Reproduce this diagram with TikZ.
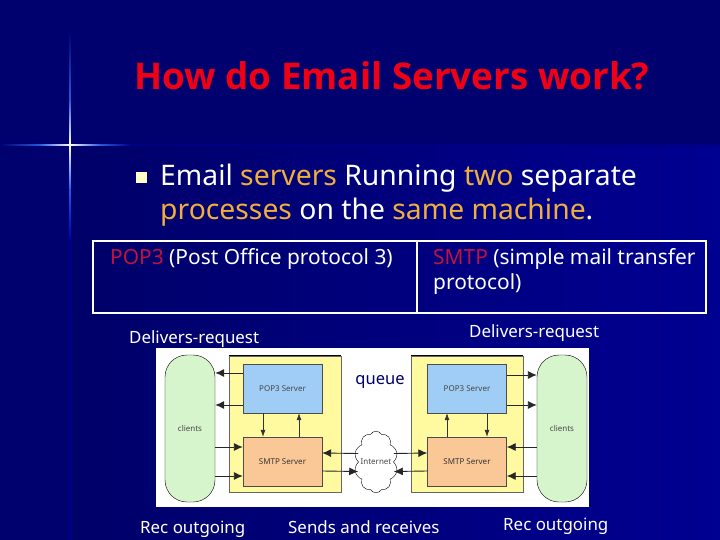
\documentclass[tikz,border=0pt]{standalone}
\usepackage{fontspec}
\usepackage{xcolor}
\setmainfont{Noto Sans}
\newfontfamily\titlefont{Open Sans}
\usetikzlibrary{shapes.symbols, arrows.meta}
\definecolor{slideNavy}{RGB}{0, 0, 110}
\definecolor{slideBlue}{RGB}{0, 0, 145}
\definecolor{slideDeep}{RGB}{0, 0, 105}
\definecolor{starBlue}{RGB}{40, 90, 220}
\definecolor{titleRed}{RGB}{240, 0, 20}
\definecolor{accentGold}{RGB}{240, 175, 60}
\definecolor{protoRed}{RGB}{190, 20, 60}
\definecolor{bulletPale}{RGB}{255, 255, 200}
\definecolor{clientGreen}{RGB}{215, 245, 205}
\definecolor{hostYellow}{RGB}{255, 250, 160}
\definecolor{popBlue}{RGB}{160, 205, 245}
\definecolor{smtpOrange}{RGB}{250, 200, 150}
\definecolor{inkGray}{RGB}{70, 70, 70}

\begin{document}
\begin{tikzpicture}[x=1pt, y=-1pt]
            % Styles
            \tikzstyle{client} = [rectangle, draw=black, fill=clientGreen, text=inkGray, minimum width=50pt, minimum height=147pt, rounded corners=22pt, font=\fontsize{8}{10}\selectfont]
            \tikzstyle{host} = [rectangle, fill=hostYellow, draw=black!60, minimum width=112pt, minimum height=136pt]
            \tikzstyle{popserver} = [rectangle, draw=black!70, fill=popBlue, text=inkGray, minimum width=79pt, minimum height=49pt, font=\fontsize{8}{10}\selectfont]
            \tikzstyle{smtpserver} = [rectangle, draw=black!70, fill=smtpOrange, text=black!80, minimum width=79pt, minimum height=49pt, font=\fontsize{8}{10}\selectfont]
            \tikzstyle{protocell} = [rectangle, draw=white, line width=1.6pt, minimum height=72pt]
            \tikzstyle{label} = [text=white, font=\fontsize{16.9}{20}\selectfont]
            \tikzstyle{arrow} = [-{Latex[length=9pt,width=8pt]}, line width=0.9pt, black!85]
            \tikzstyle{thinarrow} = [-{Latex[length=7pt,width=5pt]}, line width=0.6pt, black!80]

            % Background
            \fill[slideNavy] (0,0) rectangle (720,540);
            \shade[left color=slideDeep, right color=slideBlue] (70,145) rectangle (720,540);
            \fill[slideBlue!90!black] (68,145) rectangle (72,540);
            \fill[slideBlue!60!slideNavy] (70,144) rectangle (720,146);
            \shade[top color=slideNavy, bottom color=starBlue] (69.4,30) rectangle (70.6,100);
            \shade[top color=starBlue, bottom color=white] (69.4,100) rectangle (70.6,145);
            \shade[top color=white, bottom color=starBlue] (69.4,145) rectangle (70.6,190);
            \shade[top color=starBlue, bottom color=slideBlue] (69.4,190) rectangle (70.6,240);
            \shade[left color=slideNavy, right color=starBlue] (0,144.4) rectangle (40,145.6);
            \shade[left color=starBlue, right color=white] (40,144.4) rectangle (70,145.6);
            \shade[left color=white, right color=starBlue] (70,144.4) rectangle (100,145.6);
            \shade[left color=starBlue, right color=slideBlue] (100,144.4) rectangle (130,145.6);

            % Title and bullet
            \node[anchor=base west, inner sep=0pt, text=titleRed, font=\fontsize{36.8}{44}\selectfont\titlefont\bfseries] (title) at (134,90) {How do Email Servers work?};
            \node[rectangle, fill=bulletPale, minimum width=11pt, minimum height=11pt, inner sep=0pt] (bullet) at (141,178) {};
            \node[anchor=base west, inner sep=0pt, text=white, font=\fontsize{28.3}{32}\selectfont] (lineone) at (160,186) {Email \textcolor{accentGold}{servers} Running \textcolor{accentGold}{two} separate};
            \node[anchor=base west, inner sep=0pt, text=white, font=\fontsize{28.3}{32}\selectfont] (linetwo) at (160,219) {\textcolor{accentGold}{processes} on the \textcolor{accentGold}{same machine}.};

            % Protocol table
            \node[protocell, minimum width=324pt] (popcell) at (255,277) {};
            \node[protocell, minimum width=289pt] (smtpcell) at (561.5,277) {};
            \node[anchor=base west, inner sep=0pt, text=white, font=\fontsize{20.9}{25}\selectfont] (poptext) at (110,264) {\textcolor{protoRed}{POP3} (Post Office protocol 3)};
            \node[anchor=base west, inner sep=0pt, text=white, font=\fontsize{20.9}{25}\selectfont] (smtptext) at (433,264) {\textcolor{protoRed}{SMTP} (simple mail transfer};
            \node[anchor=base west, inner sep=0pt, text=white, font=\fontsize{20.9}{25}\selectfont] (smtpmore) at (433,289) {protocol)};

            % Figure
            \node[rectangle, fill=white, minimum width=433pt, minimum height=159pt] (figure) at (372.5,427.5) {};
            \node[client] (clientl) at (190,428.5) {clients};
            \node[client] (clientr) at (562,428.5) {clients};
            \node[host] (hostl) at (285,424) {};
            \node[host] (hostr) at (467,424) {};
            \draw[line width=1.2pt] (hostl.north west) -- (hostl.north east);
            \draw[line width=1.2pt] (hostr.north west) -- (hostr.north east);
            \node[popserver] (popl) at (282.5,388.5) {POP3 Server};
            \node[popserver] (popr) at (467,388.5) {POP3 Server};
            \node[smtpserver] (smtpl) at (282.5,461.5) {SMTP Server};
            \node[smtpserver] (smtpr) at (467,461.5) {SMTP Server};
            \node[cloud, cloud puffs=10, cloud puff arc=120, aspect=0.6, draw=black, fill=white, text=inkGray, inner sep=-3pt, font=\fontsize{8}{10}\selectfont] (net) at (376,462) {Internet};

            % Arrows
            \draw[arrow] ([yshift=15.5pt]popl.west) -- ([yshift=15.5pt]clientl.east |- popl.west);
            \draw[arrow] ([yshift=-16.5pt]popl.west) -- ([yshift=-16.5pt]clientl.east |- popl.west);
            \draw[arrow] ([yshift=14.5pt]clientl.east |- smtpl.west) -- ([yshift=14.5pt]smtpl.west);
            \draw[arrow] ([yshift=-14.5pt]clientl.east |- smtpl.west) -- ([yshift=-14.5pt]smtpl.west);
            \draw[thinarrow] ([xshift=-19.5pt]popl.south) -- ([xshift=-19.5pt]smtpl.north);
            \draw[thinarrow] ([xshift=16.5pt]smtpl.north) -- ([xshift=16.5pt]popl.south);
            \draw[arrow] ([yshift=8.5pt]net.west) -- ([yshift=8.5pt]smtpl.east);
            \draw[arrow] ([yshift=-9.5pt]smtpl.east) -- ([yshift=-9.5pt]net.west);
            \draw[arrow] ([yshift=8.5pt]net.east) -- ([yshift=8.5pt]smtpr.west);
            \draw[arrow] ([yshift=-9.5pt]smtpr.west) -- ([yshift=-9.5pt]net.east);
            \draw[thinarrow] ([xshift=-20pt]smtpr.north) -- ([xshift=-20pt]popr.south);
            \draw[thinarrow] ([xshift=20pt]popr.south) -- ([xshift=20pt]smtpr.north);
            \draw[arrow] ([yshift=13.5pt]popr.east) -- ([yshift=13.5pt]clientr.west |- popr.east);
            \draw[arrow] ([yshift=-16.5pt]popr.east) -- ([yshift=-16.5pt]clientr.west |- popr.east);
            \draw[arrow] ([yshift=14.5pt]clientr.west |- smtpr.east) -- ([yshift=14.5pt]smtpr.east);
            \draw[arrow] ([yshift=-14.5pt]clientr.west |- smtpr.east) -- ([yshift=-14.5pt]smtpr.east);

            % Labels
            \node[label, anchor=base west, inner sep=0pt] (delivl) at (129,343) {Delivers-request};
            \node[label, anchor=base west, inner sep=0pt] (delivr) at (469,337) {Delivers-request};
            \node[anchor=center, text=slideNavy, font=\fontsize{16.5}{20}\selectfont] (queue) at (380,382) {queue};
            \node[label, anchor=base west, inner sep=0pt] (recl) at (140,533) {Rec outgoing};
            \node[label, anchor=base west, inner sep=0pt] (sends) at (288,533) {Sends and receives};
            \node[label, anchor=base west, inner sep=0pt] (recr) at (503,530) {Rec outgoing};
            \useasboundingbox (0,0) rectangle (720,540);
        \end{tikzpicture}
\end{document}
